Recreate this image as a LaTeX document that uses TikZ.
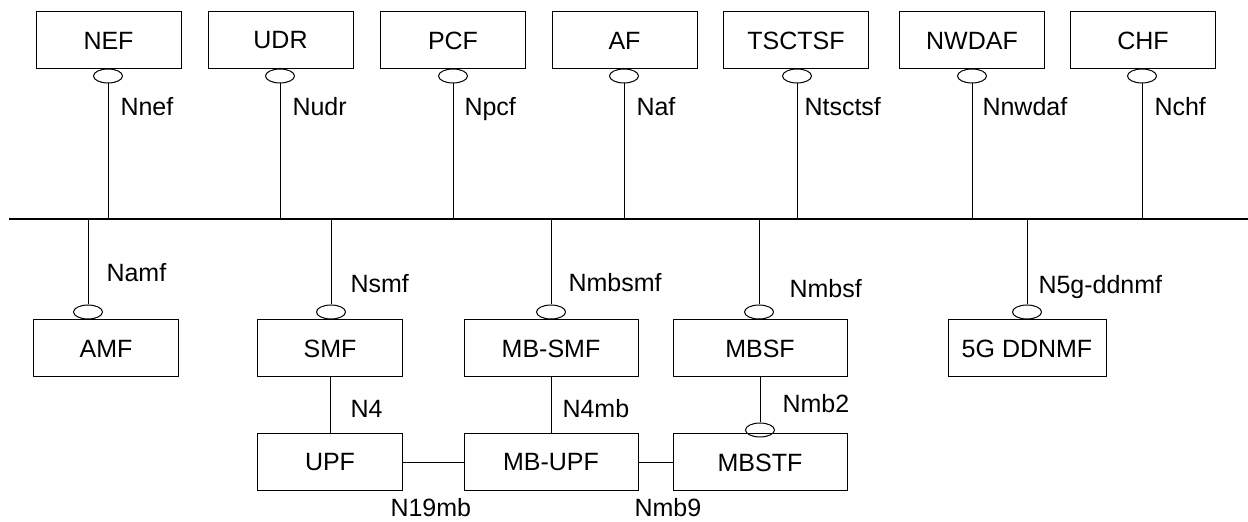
\documentclass[tikz,border=0pt]{standalone}
\usepackage{fontspec}
\setmainfont{Liberation Sans}
\usetikzlibrary{shapes.geometric}

\begin{document}
\begin{tikzpicture}
  [x=0.5pt,y=-0.5pt,line width=.5pt,
   every node/.style={font=\fontsize{12.5}{14}\selectfont},
   nf/.style={draw,rectangle,minimum width=72.5pt,minimum height=28.5pt,inner sep=0pt},
   sock/.style={draw,ellipse,minimum width=14.5pt,minimum height=7pt,inner sep=0pt},
   lbl/.style={anchor=base west,inner sep=0pt}]
  \useasboundingbox (0,0) rectangle (1248,522);

  % top row
  \node[nf] (nef) at (108.5,40.5) {NEF};
  \node[nf] (udr) at (280.5,40.5) {UDR};
  \node[nf] (pcf) at (453,40.5) {PCF};
  \node[nf] (af) at (624.5,40.5) {AF};
  \node[nf] (tsctsf) at (796,40.5) {TSCTSF};
  \node[nf] (nwdaf) at (972,40.5) {NWDAF};
  \node[nf] (chf) at (1143,40.5) {CHF};

  % bus
  \coordinate (busl) at (9,219);
  \coordinate (busr) at (1248,219);
  \draw[line width=1pt] (busl) -- (busr);

  \foreach \n/\x in {nef/108,udr/280,pcf/453,af/624,tsctsf/797,nwdaf/972,chf/1142}
  {
    \node[sock] (\n-s) at (\x,76) {};
    \draw (\n-s.south) -- (\n-s.south |- busl);
  }

  \foreach \n/\t/\x in {nef/Nnef/120,udr/Nudr/292,pcf/Npcf/464,af/Naf/636,
                        tsctsf/Ntsctsf/804,nwdaf/Nnwdaf/982,chf/Nchf/1154}
    \node[lbl] (\n-l) at (\x,116) {\t};

  % bottom row
  \node[nf] (amf) at (106,348.5) {AMF};
  \node[nf] (smf) at (330,348.5) {SMF};
  \node[nf,minimum width=87pt] (mbsmf) at (551,348.5) {MB-SMF};
  \node[nf,minimum width=87pt] (mbsf) at (760,348.5) {MBSF};
  \node[nf,minimum width=79pt] (ddnmf) at (1027,348.5) {5G DDNMF};

  \foreach \n/\x in {amf/88,smf/331,mbsmf/551,mbsf/759,ddnmf/1027}
  {
    \node[sock] (\n-s) at (\x,312) {};
    \draw (\n-s.north) -- (\n-s.north |- busl);
  }

  \foreach \n/\t/\x/\y in {amf/Namf/106/282,smf/Nsmf/350/293,mbsmf/Nmbsmf/568/292,
                           mbsf/Nmbsf/789/298,ddnmf/N5g-ddnmf/1038/294}
    \node[lbl] (\n-l) at (\x,\y) {\t};

  % user plane
  \node[nf] (upf) at (330,462.5) {UPF};
  \node[nf,minimum width=87pt] (mbupf) at (551,462.5) {MB-UPF};
  \node[nf,minimum width=87pt] (mbstf) at (760,462.5) {MBSTF};
  \node[sock] (mbstf-s) at (760,430) {};

  \foreach \from/\to in {smf/upf,mbsmf/mbupf,mbsf/mbstf-s,upf/mbupf,mbupf/mbstf}
    \draw (\from) -- (\to);

  \node[lbl] (n4) at (350,418) {N4};
  \node[lbl] (n4mb) at (562,418) {N4mb};
  \node[lbl] (nmb2) at (782,413) {Nmb2};
  \node[lbl] (n19mb) at (390,517) {N19mb};
  \node[lbl] (nmb9) at (634,517) {Nmb9};

\end{tikzpicture}
\end{document}
